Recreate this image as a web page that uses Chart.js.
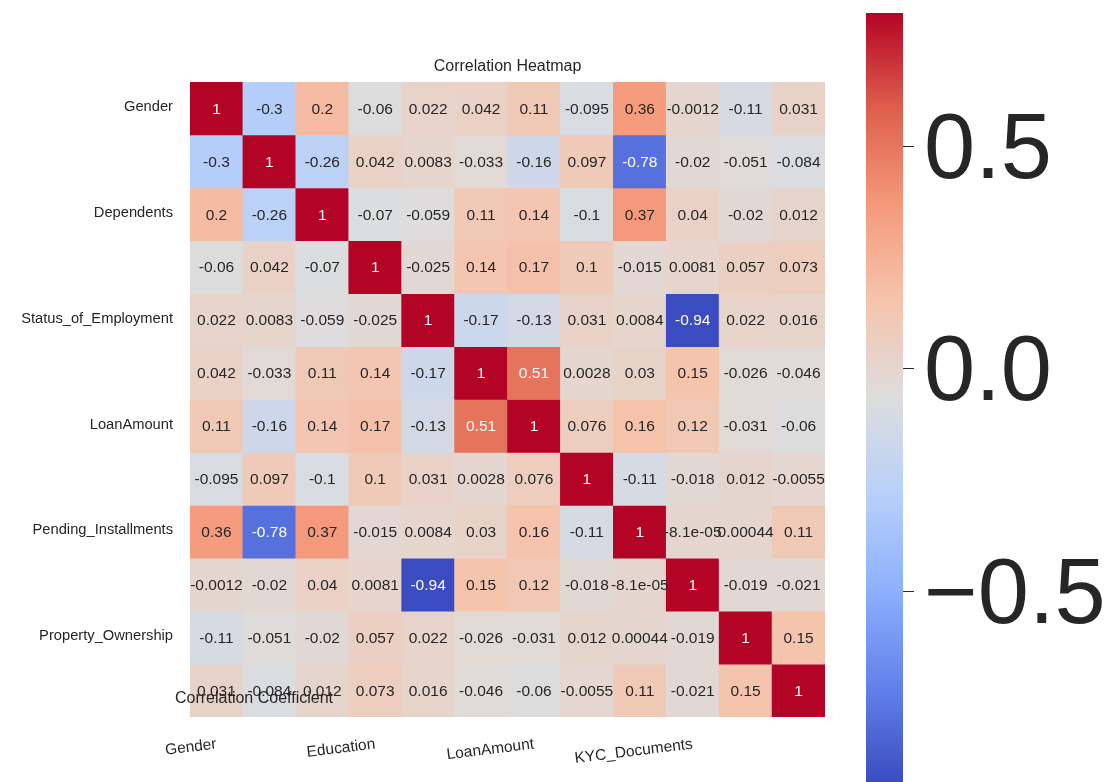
<!DOCTYPE html>
<html>
<head>
<meta charset="utf-8">
<script src="https://cdn.jsdelivr.net/npm/chart.js@4.4.1/dist/chart.umd.min.js"></script>
<style>
  body { margin: 0; background: #fff; width: 1116px; height: 782px; overflow: hidden; position: relative; }
  #heat-box { position: absolute; left: 0; top: 0; width: 840px; height: 782px; }
  #bar-box { position: absolute; left: 866px; top: 0; width: 250px; height: 782px; }
  #cb-label { position: absolute; left: 254px; top: 688px; transform: translateX(-50%);
    font: 16px "Liberation Sans", Arial, sans-serif; color: #262626; line-height: 20px; white-space: nowrap; }
</style>
</head>
<body>
<div id="heat-box"><canvas id="heatmap"></canvas></div>
<div id="bar-box"><canvas id="colorbar"></canvas></div>
<div id="cb-label">Correlation Coefficient</div>
<script>
const FONT = '"Liberation Sans", Arial, sans-serif';

// tick labels as shown (only some are printed)
const rowLabels = ['Gender', '', 'Dependents', '', 'Status_of_Employment', '', 'LoanAmount', '', 'Pending_Installments', '', 'Property_Ownership', ''];
const colLabels = ['Gender', '', '', 'Education', '', '', 'LoanAmount', '', '', 'KYC_Documents', '', ''];

const corr = [
    [1, -0.3, 0.2, -0.06, 0.022, 0.042, 0.11, -0.095, 0.36, -0.0012, -0.11, 0.031],
    [-0.3, 1, -0.26, 0.042, 0.0083, -0.033, -0.16, 0.097, -0.78, -0.02, -0.051, -0.084],
    [0.2, -0.26, 1, -0.07, -0.059, 0.11, 0.14, -0.1, 0.37, 0.04, -0.02, 0.012],
    [-0.06, 0.042, -0.07, 1, -0.025, 0.14, 0.17, 0.1, -0.015, 0.0081, 0.057, 0.073],
    [0.022, 0.0083, -0.059, -0.025, 1, -0.17, -0.13, 0.031, 0.0084, -0.94, 0.022, 0.016],
    [0.042, -0.033, 0.11, 0.14, -0.17, 1, 0.51, 0.0028, 0.03, 0.15, -0.026, -0.046],
    [0.11, -0.16, 0.14, 0.17, -0.13, 0.51, 1, 0.076, 0.16, 0.12, -0.031, -0.06],
    [-0.095, 0.097, -0.1, 0.1, 0.031, 0.0028, 0.076, 1, -0.11, -0.018, 0.012, -0.0055],
    [0.36, -0.78, 0.37, -0.015, 0.0084, 0.03, 0.16, -0.11, 1, -8.1e-5, 0.00044, 0.11],
    [-0.0012, -0.02, 0.04, 0.0081, -0.94, 0.15, 0.12, -0.018, -8.1e-5, 1, -0.019, -0.021],
    [-0.11, -0.051, -0.02, 0.057, 0.022, -0.026, -0.031, 0.012, 0.00044, -0.019, 1, 0.15],
    [0.031, -0.084, 0.012, 0.073, 0.016, -0.046, -0.06, -0.0055, 0.11, -0.021, 0.15, 1]
];

// colour scale range (as shown on the colorbar) and its ticks
const cbMin = -0.929;
const cbMax = 0.80;
const cbTicks = [-0.5, 0, 0.5];

// coolwarm colormap anchors
const coolwarm = [
    [59, 76, 192], [98, 130, 234], [141, 176, 254], [184, 208, 249],
    [221, 221, 221], [245, 196, 173], [244, 154, 123], [222, 96, 77], [180, 4, 38]
];

function cmap(t) {
    t = Math.max(0, Math.min(1, t));
    const p = t * (coolwarm.length - 1);
    const i = Math.min(Math.floor(p), coolwarm.length - 2);
    const f = p - i;
    const a = coolwarm[i], b = coolwarm[i + 1];
    return [0, 1, 2].map(k => Math.round(a[k] + (b[k] - a[k]) * f));
}

function norm(v) {
    return (v - cbMin) / (cbMax - cbMin);
}

function cellColor(v) {
    return 'rgb(' + cmap(norm(v)).join(',') + ')';
}

function textColor(v) {
    const c = cmap(norm(v)).map(x => {
        x = x / 255;
        return x <= 0.03928 ? x / 12.92 : Math.pow((x + 0.055) / 1.055, 2.4);
    });
    const lum = 0.2126 * c[0] + 0.7152 * c[1] + 0.0722 * c[2];
    return lum > 0.408 ? '#262626' : '#ffffff';
}

// like python '.2g'
function fmt(v) {
    if (v === 0) return '0';
    const e = Math.floor(Math.log10(Math.abs(v)));
    if (e < -4) {
        const s = v.toExponential(1);
        return s.replace(/e([+-])(\d)$/, 'e$10$2');
    }
    return String(parseFloat(v.toPrecision(2)));
}

// one floating-bar dataset per row
const datasets = corr.map((row, r) => ({
    data: row.map(() => [r, r + 1]),
    backgroundColor: row.map(v => cellColor(v)),
    borderWidth: 0,
    grouped: false,
    barPercentage: 1,
    categoryPercentage: 1
}));

const annotations = {
    id: 'annotations',
    afterDatasetsDraw(chart) {
        const ctx = chart.ctx;
        ctx.save();
        ctx.font = '15.5px ' + FONT;
        ctx.textAlign = 'center';
        ctx.textBaseline = 'middle';
        corr.forEach((row, r) => {
            const meta = chart.getDatasetMeta(r);
            row.forEach((v, c) => {
                const bar = meta.data[c];
                ctx.fillStyle = textColor(v);
                ctx.fillText(fmt(v), bar.x, (bar.y + bar.base) / 2 + 1);
            });
        });
        ctx.restore();
    }
};

new Chart(document.getElementById('heatmap'), {
    type: 'bar',
    data: { labels: colLabels, datasets: datasets },
    options: {
        responsive: true,
        maintainAspectRatio: false,
        animation: false,
        layout: { padding: { left: 0, right: 15, top: 0, bottom: 0 } },
        plugins: {
            legend: { display: false },
            tooltip: { enabled: false },
            title: {
                display: true,
                text: 'Correlation Heatmap',
                fullSize: false,
                color: '#262626',
                font: { family: FONT, size: 16, weight: 'normal', lineHeight: 1.2 },
                padding: { top: 57, bottom: 5.8 }
            }
        },
        scales: {
            x: {
                grid: { display: false, drawTicks: false },
                border: { display: false },
                ticks: {
                    autoSkip: false,
                    minRotation: 7,
                    maxRotation: 7,
                    padding: 18,
                    color: '#262626',
                    font: { family: FONT, size: 15.5 },
                    callback: (v, i) => colLabels[i]
                },
                afterFit: s => { s.height = 65; }
            },
            y: {
                reverse: true,
                min: 0,
                max: corr.length,
                grid: { display: false, drawTicks: false },
                border: { display: false },
                afterBuildTicks: s => { s.ticks = rowLabels.map((_, i) => ({ value: i + 0.5 })); },
                ticks: {
                    autoSkip: false,
                    padding: 17,
                    labelOffset: -1.5,
                    color: '#262626',
                    font: { family: FONT, size: 14.7 },
                    callback: (v, i) => rowLabels[i]
                },
                afterFit: s => { s.width = 190; }
            }
        }
    },
    plugins: [annotations]
});

function barGradient(context) {
    const chart = context.chart;
    const area = chart.chartArea;
    if (!area) return null;
    const g = chart.ctx.createLinearGradient(0, area.bottom, 0, area.top);
    coolwarm.forEach((c, i) => g.addColorStop(i / (coolwarm.length - 1), 'rgb(' + c.join(',') + ')'));
    return g;
}

new Chart(document.getElementById('colorbar'), {
    type: 'bar',
    data: {
        labels: [''],
        datasets: [{
            data: [[cbMin, cbMax]],
            backgroundColor: barGradient,
            borderWidth: 0,
            barPercentage: 1,
            categoryPercentage: 1
        }]
    },
    options: {
        responsive: true,
        maintainAspectRatio: false,
        animation: false,
        layout: { padding: { left: 0, right: 0, top: 13, bottom: 0 } },
        plugins: { legend: { display: false }, tooltip: { enabled: false } },
        scales: {
            x: { display: false },
            y: {
                position: 'right',
                min: cbMin,
                max: cbMax,
                grid: { drawOnChartArea: false, drawTicks: true, tickLength: 11, color: '#262626' },
                border: { display: false },
                afterBuildTicks: s => { s.ticks = cbTicks.map(v => ({ value: v })); },
                ticks: {
                    padding: 10,
                    labelOffset: 6,
                    color: '#262626',
                    font: { family: FONT, size: 92 },
                    callback: v => (v < 0 ? '\u2212' : '') + Math.abs(v).toFixed(1)
                },
                afterFit: s => {
                    s.width = 213;
                    s.paddingTop = 0;
                    s.paddingBottom = 0;
                }
            }
        }
    }
});
</script>
</body>
</html>
